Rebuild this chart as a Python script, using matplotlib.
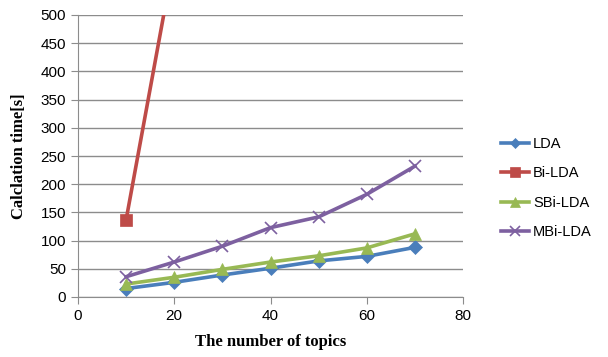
import matplotlib
matplotlib.use("Agg")
import matplotlib.pyplot as plt

topics = [10, 20, 30, 40, 50, 60, 70]
lda = [15, 26, 39, 51, 64, 72, 88]
bi_lda_topics = [10, 20]
bi_lda = [137, 602]
sbi_lda = [23, 35, 49, 62, 73, 87, 112]
mbi_lda = [36, 62, 90, 123, 142, 182, 232]

x_ticks = [0, 20, 40, 60, 80]
y_ticks = list(range(0, 501, 50))

fig = plt.figure(figsize=(6.08, 3.57), dpi=100)
ax = fig.add_axes([78 / 608, 1 - 297 / 357, (463 - 78) / 608, (297 - 15) / 357])

tick_font = "Liberation Sans"
label_font = "Liberation Serif"

series = [
    (topics, lda, "LDA", "#4A7EBB", "D", 7),
    (bi_lda_topics, bi_lda, "Bi-LDA", "#BE4B48", "s", 9),
    (topics, sbi_lda, "SBi-LDA", "#98B954", "^", 9),
    (topics, mbi_lda, "MBi-LDA", "#7D60A0", "x", 9),
]
for xs, ys, name, color, marker, ms in series:
    ax.plot(xs, ys, color=color, lw=2.6, marker=marker, ms=ms,
            mew=1.2 if marker == "x" else 0.5, mec=color, mfc=color,
            label=name, clip_on=True, zorder=3)

ax.set_xlim(0, 80)
ax.set_ylim(0, 500)
ax.set_xticks(x_ticks)
ax.set_yticks(y_ticks)
ax.yaxis.grid(True, color="#8c8c8c", lw=1.0)
ax.set_axisbelow(True)
for side in ("top", "right"):
    ax.spines[side].set_visible(False)
for side in ("left", "bottom"):
    ax.spines[side].set_color("#8c8c8c")
ax.tick_params(axis="both", colors="#8c8c8c", length=5, labelcolor="black",
               labelsize=11)
for lab in ax.get_xticklabels() + ax.get_yticklabels():
    lab.set_fontfamily(tick_font)

ax.set_xlabel("The number of topics", fontfamily=label_font, fontweight="bold",
              fontsize=12, labelpad=8)
ax.set_ylabel("Calclation time[s]", fontfamily=label_font, fontweight="bold",
              fontsize=12, labelpad=10)

leg = ax.legend(loc="upper left", bbox_to_anchor=(488 / 608, 1 - 124 / 357),
                bbox_transform=fig.transFigure, frameon=False,
                prop={"family": tick_font, "size": 10.5},
                handlelength=1.9, labelspacing=1.05, handletextpad=0.3,
                markerscale=0.8)

fig.savefig("out.png", dpi=100)
